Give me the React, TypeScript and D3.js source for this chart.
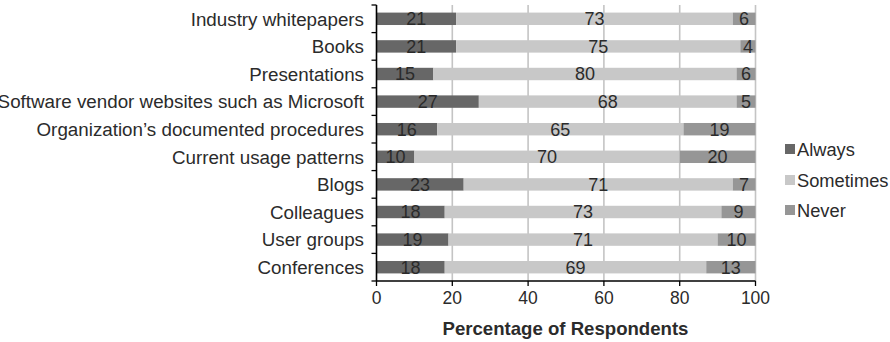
import React from "react";
import * as d3 from "d3";

const categories = [
  "Industry whitepapers",
  "Books",
  "Presentations",
  "Software vendor websites such as Microsoft",
  "Organization’s documented procedures",
  "Current usage patterns",
  "Blogs",
  "Colleagues",
  "User groups",
  "Conferences",
];
const always = [21, 21, 15, 27, 16, 10, 23, 18, 19, 18];
const sometimes = [73, 75, 80, 68, 65, 70, 71, 73, 71, 69];
const never = [6, 4, 6, 5, 19, 20, 7, 9, 10, 13];
const seriesNames = ["Always", "Sometimes", "Never"];
const xTicks = [0, 20, 40, 60, 80, 100];

const colors: Record<string, string> = {
  Always: "#676767",
  Sometimes: "#c8c8c8",
  Never: "#969696",
};

const W = 890;
const H = 342;
const left = 376.5;
const right = 755.5;
const top = 5;
const bottom = 281;
const font = "'Liberation Sans', Arial, sans-serif";
const textColor = "#2b2b2b";

export default function App() {
  const rows = categories.map((c, i) => ({
    cat: c,
    Always: always[i],
    Sometimes: sometimes[i],
    Never: never[i],
  }));
  const stack = d3.stack<any>().keys(seriesNames);
  const layers = stack(rows);

  const x = d3.scaleLinear().domain([0, 100]).range([left, right]);
  const y = d3
    .scaleBand<string>()
    .domain(categories)
    .range([top, bottom])
    .paddingInner(0.55)
    .paddingOuter(0.275);
  const step = y.step();
  const bw = y.bandwidth();
  const boundaries = d3.range(categories.length + 1).map((i) => top + i * step);

  const legendY = [149, 180, 210];

  return (
    <svg
      width={W}
      height={H}
      style={{ position: "absolute", left: 0, top: 0, background: "#fff" }}
      fontFamily={font}
    >
      {xTicks.slice(1).map((t) => (
        <line
          key={"g" + t}
          x1={x(t)}
          x2={x(t)}
          y1={top}
          y2={bottom}
          stroke="#c4c4c4"
          strokeWidth={1.6}
        />
      ))}
      {layers.map((layer) =>
        layer.map((d, i) => {
          const x0 = x(Math.min(d[0], 100));
          const x1 = x(Math.min(d[1], 100));
          return (
            <rect
              key={layer.key + i}
              x={x0}
              y={y(categories[i])!}
              width={Math.max(0, x1 - x0)}
              height={bw}
              fill={colors[layer.key]}
            />
          );
        })
      )}
      {layers.map((layer) =>
        layer.map((d, i) => {
          const x0 = x(Math.min(d[0], 100));
          const x1 = x(Math.min(d[1], 100));
          return (
            <text
              key={"t" + layer.key + i}
              x={(x0 + x1) / 2}
              y={y(categories[i])! + bw / 2}
              dy="0.36em"
              textAnchor="middle"
              fontSize={18}
              fill={textColor}
            >
              {(d.data as any)[layer.key]}
            </text>
          );
        })
      )}
      <line x1={left} x2={left} y1={top} y2={bottom} stroke="#000" strokeWidth={1.6} />
      {boundaries.map((b, i) => (
        <line key={"yt" + i} x1={left - 5} x2={left} y1={b} y2={b} stroke="#000" strokeWidth={1.3} />
      ))}
      {categories.map((c) => (
        <text
          key={"c" + c}
          x={364}
          y={y(c)! + bw / 2}
          dy="0.36em"
          textAnchor="end"
          fontSize={18.8}
          fill={textColor}
        >
          {c}
        </text>
      ))}
      <line x1={left} x2={right} y1={bottom} y2={bottom} stroke="#000" strokeWidth={1.6} />
      {xTicks.map((t) => (
        <g key={"xt" + t}>
          <line x1={x(t)} x2={x(t)} y1={bottom} y2={bottom + 5} stroke="#000" strokeWidth={1.3} />
          <text
            x={x(t)}
            y={298}
            dy="0.36em"
            textAnchor="middle"
            fontSize={17.5}
            fill={textColor}
          >
            {t}
          </text>
        </g>
      ))}
      <text
        x={565.5}
        y={328.5}
        dy="0.36em"
        textAnchor="middle"
        fontSize={18.6}
        fontWeight="bold"
        fill={textColor}
      >
        Percentage of Respondents
      </text>
      {seriesNames.map((s, i) => (
        <g key={"l" + s}>
          <rect x={785} y={legendY[i] - 5} width={10} height={10} fill={colors[s]} />
          <text x={797} y={legendY[i]} dy="0.36em" fontSize={18.3} fill={textColor}>
            {s}
          </text>
        </g>
      ))}
    </svg>
  );
}
